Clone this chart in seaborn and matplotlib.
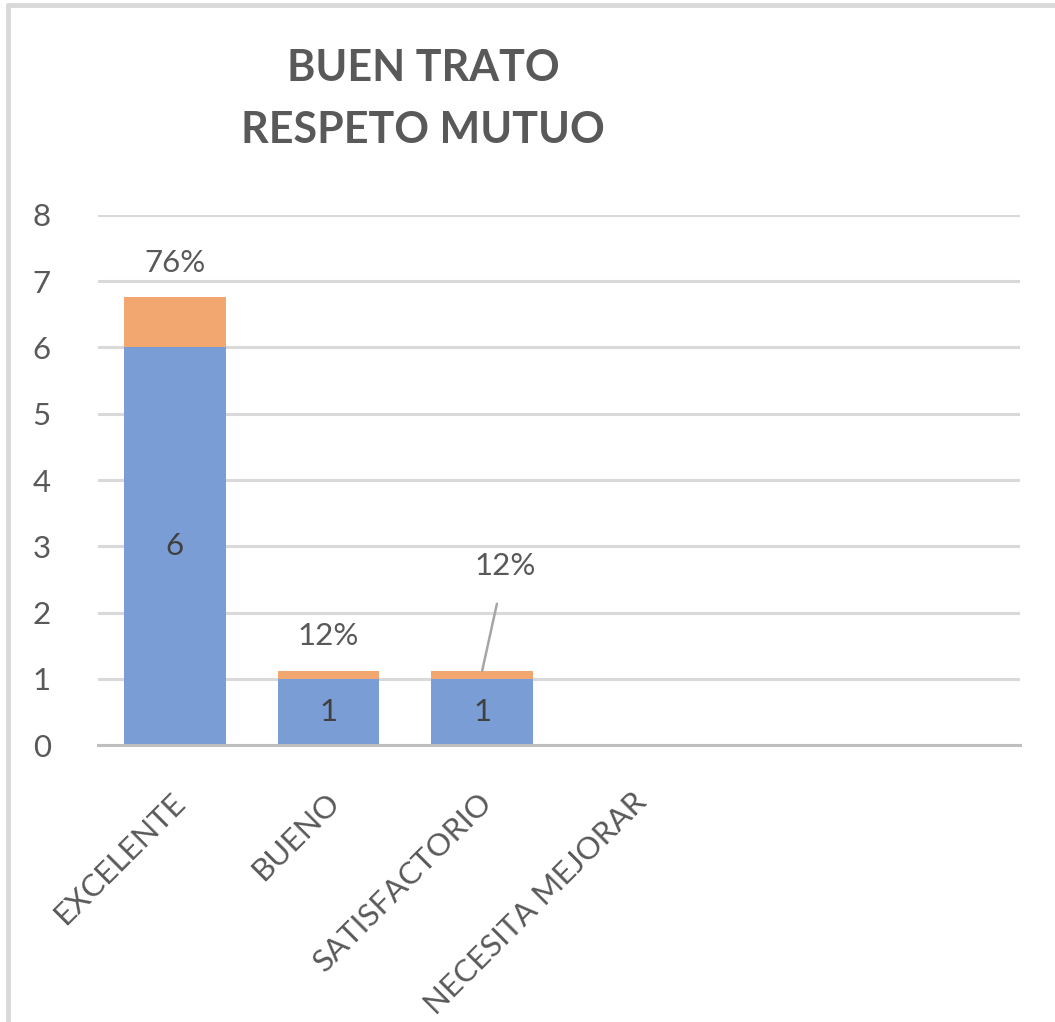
import matplotlib
matplotlib.use("Agg")
import matplotlib.pyplot as plt
import matplotlib.transforms as mtransforms
from matplotlib.lines import Line2D
import seaborn as sns
import pandas as pd

# ---- data ----
categories = ["EXCELENTE", "BUENO", "SATISFACTORIO", "NECESITA MEJORAR", " ", "  "]
counts = [6, 1, 1, 0, 0, 0]
percents = [0.76, 0.12, 0.12, 0, 0, 0]
count_labels = ["6", "1", "1", "", "", ""]
percent_labels = ["76%", "12%", "12%", "", "", ""]
title_lines = ["BUEN TRATO", "RESPETO MUTUO"]
y_ticks = [0, 1, 2, 3, 4, 5, 6, 7, 8]

sns.set_theme(style="white")
plt.rcParams["font.family"] = ["Lato", "DejaVu Sans"]

TXT = "#595959"
BLUE = "#7b9dd5"
ORANGE = "#f1a76f"
FS = 22.5

fig = plt.figure(figsize=(10.55, 10.22), dpi=100)
ax = fig.add_axes([98/1055, 1-745/1022, (1020-98)/1055, (745-215)/1022])

df = pd.DataFrame({"cat": categories, "count": counts, "pct": percents})
df["total"] = df["count"] + df["pct"]

# stacked: draw total in orange, then count in blue on top
sns.barplot(data=df, x="cat", y="total", color=ORANGE, saturation=1, width=0.66,
            ax=ax, order=categories)
sns.barplot(data=df, x="cat", y="count", color=BLUE, saturation=1, width=0.66,
            ax=ax, order=categories)
for p in ax.patches:
    p.set_linewidth(0)

ax.set_ylim(0, 8)
ax.set_xlim(-0.5, len(categories) - 0.5)
ax.set_yticks(y_ticks)
ax.set_yticklabels([str(v) for v in y_ticks], color=TXT, fontsize=FS)
ax.tick_params(axis="y", length=0, pad=34)
ax.tick_params(axis="x", length=0, pad=38)
ax.set_xlabel("")
ax.set_ylabel("")

ax.grid(axis="y", color="#d9d9d9", linewidth=2.2)
ax.set_axisbelow(True)
for s in ["left", "right", "top"]:
    ax.spines[s].set_visible(False)
ax.spines["bottom"].set_color("#bfbfbf")
ax.spines["bottom"].set_linewidth(2.2)
ax.spines["bottom"].set_zorder(5)

# x tick labels rotated
ax.set_xticks(range(len(categories)))
ax.set_xticklabels(categories)
offset = mtransforms.ScaledTranslation(0.06, 0, fig.dpi_scale_trans)
for lbl in ax.get_xticklabels():
    lbl.set_rotation(45)
    lbl.set_ha("right")
    lbl.set_va("center")
    lbl.set_rotation_mode("anchor")
    lbl.set_color(TXT)
    lbl.set_fontsize(FS)
    lbl.set_transform(lbl.get_transform() + offset)

# data labels
for i, (c, p) in enumerate(zip(counts, percents)):
    if count_labels[i]:
        ax.text(i, c / 2, count_labels[i], ha="center", va="center",
                color="#404040", fontsize=FS)
    if percent_labels[i]:
        if i == 2:
            ax.annotate(percent_labels[i], xy=(i, c + p), xytext=(i + 0.15, 2.7),
                        ha="center", va="center", color=TXT, fontsize=FS,
                        arrowprops=dict(arrowstyle="-", color="#a6a6a6", lw=1.8,
                                        shrinkA=15, shrinkB=0))
        else:
            ax.text(i, c + p + 0.52, percent_labels[i], ha="center", va="center",
                    color=TXT, fontsize=FS)

# title
fig.text(423/1055, 1-68/1022, title_lines[0], ha="center", va="center",
         fontsize=31, fontweight="bold", color=TXT)
fig.text(423/1055, 1-130/1022, title_lines[1], ha="center", va="center",
         fontsize=31, fontweight="bold", color=TXT)

# frame border (top and left visible)
fig.add_artist(Line2D([8/1055, 8/1055], [0, 1-5/1022], transform=fig.transFigure,
                      color="#d9d9d9", linewidth=3.5))
fig.add_artist(Line2D([8/1055, 1], [1-5/1022, 1-5/1022], transform=fig.transFigure,
                      color="#d9d9d9", linewidth=3.5))

fig.savefig("out.png", dpi=100)
